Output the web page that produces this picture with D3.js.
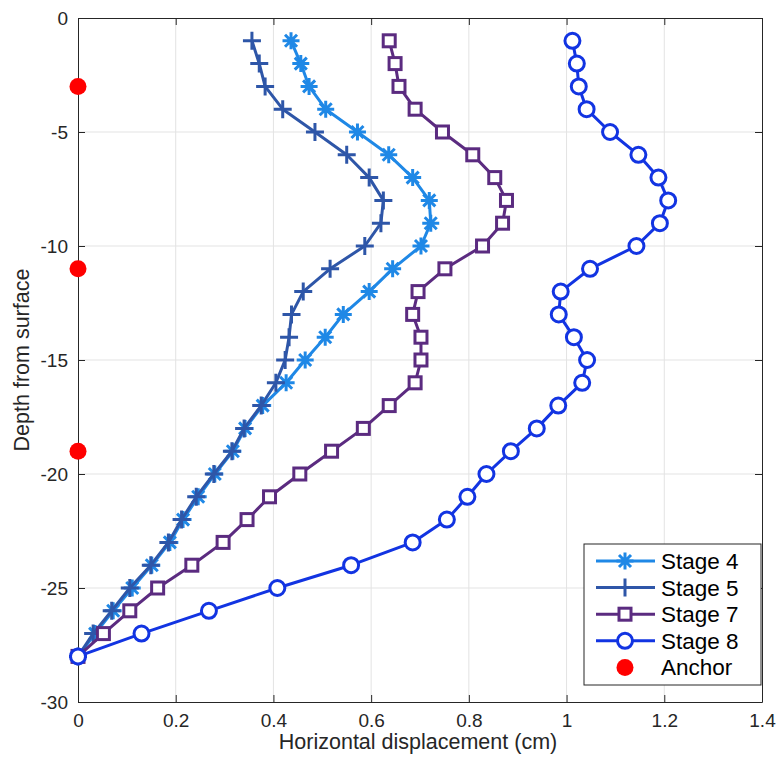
<!DOCTYPE html>
<html>
<head>
<meta charset="utf-8">
<script src="https://cdn.jsdelivr.net/npm/d3@7/dist/d3.min.js"></script>
<style>
  body { margin: 0; background: #fff; }
  svg { display: block; font-family: "Liberation Sans", Arial, Helvetica, sans-serif; }
</style>
</head>
<body>
<div id="chart"></div>
<script>
// depths (m below surface) shared by every stage
const depths = [-1, -2, -3, -4, -5, -6, -7, -8, -9, -10, -11, -12, -13, -14,
  -15, -16, -17, -18, -19, -20, -21, -22, -23, -24, -25, -26, -27, -28];

const stage4 = [0.436, 0.456, 0.473, 0.507, 0.572, 0.636, 0.685, 0.719, 0.722, 0.702,
  0.644, 0.596, 0.543, 0.506, 0.465, 0.426, 0.378, 0.342, 0.317, 0.280,
  0.246, 0.215, 0.188, 0.151, 0.111, 0.072, 0.035, 0];
const stage5 = [0.356, 0.371, 0.383, 0.419, 0.485, 0.550, 0.596, 0.625, 0.620, 0.587,
  0.516, 0.461, 0.437, 0.432, 0.424, 0.405, 0.375, 0.340, 0.315, 0.278,
  0.242, 0.212, 0.185, 0.149, 0.106, 0.069, 0.031, 0];
const stage7 = [0.637, 0.649, 0.657, 0.690, 0.746, 0.808, 0.853, 0.877, 0.869, 0.828,
  0.751, 0.696, 0.685, 0.702, 0.702, 0.690, 0.637, 0.584, 0.519, 0.454,
  0.392, 0.346, 0.297, 0.233, 0.163, 0.106, 0.052, 0];
const stage8 = [1.012, 1.021, 1.025, 1.041, 1.089, 1.147, 1.188, 1.208, 1.191, 1.143,
  1.048, 0.988, 0.984, 1.015, 1.042, 1.032, 0.983, 0.939, 0.886, 0.836,
  0.797, 0.755, 0.685, 0.559, 0.408, 0.268, 0.130, 0];

const anchorDepths = [-3, -11, -19];

const xTicks = [0, 0.2, 0.4, 0.6, 0.8, 1, 1.2, 1.4];
const yTicks = [0, -5, -10, -15, -20, -25, -30];

const series = [
  { name: "Stage 4", values: stage4, color: "#1f88e6", marker: "asterisk" },
  { name: "Stage 5", values: stage5, color: "#2e56a8", marker: "plus" },
  { name: "Stage 7", values: stage7, color: "#5b2b80", marker: "square" },
  { name: "Stage 8", values: stage8, color: "#1234e2", marker: "circle" }
];

const W = 776, H = 757;
const m = { left: 78, top: 18, right: 14, bottom: 55 };
const iw = W - m.left - m.right, ih = H - m.top - m.bottom;

const x = d3.scaleLinear().domain([0, 1.4]).range([0, iw]);
const y = d3.scaleLinear().domain([-30, 0]).range([ih, 0]);

const svg = d3.select("#chart").append("svg").attr("width", W).attr("height", H);
const g = svg.append("g").attr("transform", `translate(${m.left},${m.top})`);

// grid
g.append("g").selectAll("line").data(xTicks.slice(1, -1)).join("line")
  .attr("x1", (d) => x(d)).attr("x2", (d) => x(d)).attr("y1", 0).attr("y2", ih)
  .attr("stroke", "#e3e3e3").attr("stroke-width", 1);
g.append("g").selectAll("line").data(yTicks.slice(1, -1)).join("line")
  .attr("y1", (d) => y(d)).attr("y2", (d) => y(d)).attr("x1", 0).attr("x2", iw)
  .attr("stroke", "#e3e3e3").attr("stroke-width", 1);

// axes (MATLAB style: ticks inside, box on)
const axisColor = "#262626";
const fmt = (d) => String(d);
const styleAxis = (sel) => {
  sel.select(".domain").attr("stroke", axisColor);
  sel.selectAll(".tick line").attr("stroke", axisColor);
  sel.selectAll(".tick text").attr("fill", "#262626").attr("font-size", 19);
};
g.append("g").attr("transform", `translate(0,${ih})`)
  .call(d3.axisBottom(x).tickValues(xTicks).tickFormat(fmt).tickSize(-7).tickPadding(12).tickSizeOuter(0))
  .call(styleAxis);
g.append("g")
  .call(d3.axisLeft(y).tickValues(yTicks).tickFormat(fmt).tickSize(-7).tickPadding(10).tickSizeOuter(0))
  .call(styleAxis);
g.append("g")
  .call(d3.axisTop(x).tickValues(xTicks).tickFormat("").tickSize(-7).tickSizeOuter(0))
  .call(styleAxis);
g.append("g").attr("transform", `translate(${iw},0)`)
  .call(d3.axisRight(y).tickValues(yTicks).tickFormat("").tickSize(-7).tickSizeOuter(0))
  .call(styleAxis);

// labels
svg.append("text").attr("x", m.left + iw / 2 - 2).attr("y", 749)
  .attr("text-anchor", "middle").attr("font-size", 21.5).attr("fill", "#262626")
  .text("Horizontal displacement (cm)");
svg.append("text").attr("transform", `translate(28.5,${m.top + ih / 2}) rotate(-90)`)
  .attr("text-anchor", "middle").attr("font-size", 21.5).attr("fill", "#262626")
  .text("Depth from surface");

// marker drawing
function drawMarker(sel, type, color) {
  if (type === "asterisk") {
    const r = 8.5, d = r * 0.7071;
    sel.append("path")
      .attr("d", `M${-r},0H${r}M0,${-r}V${r}M${-d},${-d}L${d},${d}M${-d},${d}L${d},${-d}`)
      .attr("stroke", color).attr("stroke-width", 3).attr("fill", "none");
  } else if (type === "plus") {
    const r = 9;
    sel.append("path").attr("d", `M${-r},0H${r}M0,${-r}V${r}`)
      .attr("stroke", color).attr("stroke-width", 3).attr("fill", "none");
  } else if (type === "square") {
    sel.append("rect").attr("x", -6).attr("y", -6).attr("width", 12).attr("height", 12)
      .attr("stroke", color).attr("stroke-width", 3).attr("fill", "#fff");
  } else if (type === "circle") {
    sel.append("circle").attr("r", 7.5)
      .attr("stroke", color).attr("stroke-width", 3).attr("fill", "#fff");
  }
}

const line = d3.line().x((d) => x(d[0])).y((d) => y(d[1]));

series.forEach((s) => {
  const pts = s.values.map((v, i) => [v, depths[i]]);
  const sg = g.append("g");
  sg.append("path").datum(pts).attr("d", line)
    .attr("fill", "none").attr("stroke", s.color).attr("stroke-width", 3)
    .attr("stroke-linejoin", "round");
  sg.selectAll("g.mk").data(pts).join("g").attr("class", "mk")
    .attr("transform", (d) => `translate(${x(d[0])},${y(d[1])})`)
    .each(function() { drawMarker(d3.select(this), s.marker, s.color); });
});

// anchors
g.append("g").selectAll("circle").data(anchorDepths).join("circle")
  .attr("cx", x(0)).attr("cy", (d) => y(d)).attr("r", 8.5).attr("fill", "#ff0000");

// legend
const lg = svg.append("g").attr("transform", "translate(584,544)");
lg.append("rect").attr("width", 177).attr("height", 141)
  .attr("fill", "#fff").attr("stroke", "#262626").attr("stroke-width", 1);
const legendItems = series.concat([{ name: "Anchor", color: "#ff0000", marker: "dot" }]);
legendItems.forEach((s, i) => {
  const row = lg.append("g").attr("transform", `translate(0,${17 + i * 26.6})`);
  if (s.marker === "dot") {
    row.append("circle").attr("cx", 41).attr("cy", 0).attr("r", 8.5).attr("fill", s.color);
  } else {
    row.append("line").attr("x1", 12).attr("x2", 71).attr("y1", 0).attr("y2", 0)
      .attr("stroke", s.color).attr("stroke-width", 3);
    drawMarker(row.append("g").attr("transform", "translate(41,0)"), s.marker, s.color);
  }
  row.append("text").attr("x", 77).attr("y", 8).attr("font-size", 22.5).attr("fill", "#000")
    .text(s.name);
});
</script>
</body>
</html>
